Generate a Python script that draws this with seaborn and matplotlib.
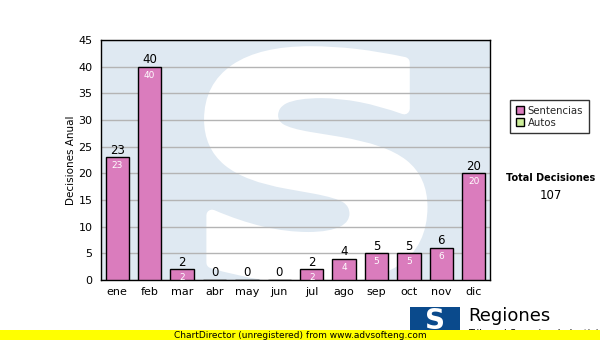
import matplotlib
matplotlib.use("Agg")
import matplotlib.pyplot as plt
import matplotlib.patches as mpatches
from matplotlib.textpath import TextPath
from matplotlib.font_manager import FontProperties
from matplotlib.transforms import Affine2D
import seaborn as sns
import pandas as pd

months = ["ene", "feb", "mar", "abr", "may", "jun", "jul", "ago", "sep", "oct", "nov", "dic"]
sentencias = [23, 40, 2, 0, 0, 0, 2, 4, 5, 5, 6, 20]
total = 107
yticks = [0, 5, 10, 15, 20, 25, 30, 35, 40, 45]

sns.set_theme(style="white")
plt.rcParams['font.family'] = ['DejaVu Sans']

df = pd.DataFrame({"mes": months, "Sentencias": sentencias})

fig = plt.figure(figsize=(6, 3.4), dpi=100)
ax = fig.add_axes([101/600, 1-280/340, (490-101)/600, (280-40)/340])
ax.set_facecolor("#dfe9f2")

# watermark S (scaled glyph path, thickened with a white outline)
tp = TextPath((0, 0), "S", size=1, prop=FontProperties(family="DejaVu Sans", weight="bold"))
ext = tp.get_extents()
x0, x1, y0, y1 = 2.85, 9.4, 0.3, 42.8
tr = Affine2D().translate(-ext.x0, -ext.y0).scale((x1 - x0) / ext.width, (y1 - y0) / ext.height).translate(x0, y0)
wm = mpatches.PathPatch(tr.transform_path(tp), facecolor="white", edgecolor="white",
                        linewidth=8, joinstyle="round", zorder=0.5)
ax.add_patch(wm)
wm.set_clip_path(ax.patch)

ax.yaxis.grid(True, color="#b4b4b4", linewidth=1)
ax.set_axisbelow(True)

sns.barplot(data=df, x="mes", y="Sentencias", color="#da7cbd", saturation=1,
            width=0.72, edgecolor="black", linewidth=1, ax=ax, zorder=3)

bars = ax.containers[0]
ax.bar_label(bars, labels=[str(v) for v in sentencias], padding=0.5, fontsize=8.5, color="black", zorder=4)
for b, v in zip(bars, sentencias):
    if v > 0:
        ax.annotate(str(v), (b.get_x() + b.get_width() / 2, b.get_height()),
                    xytext=(0, -3), textcoords="offset points", ha="center", va="top",
                    fontsize=6.5, color="white", zorder=4)

ax.set_ylim(0, 45)
ax.set_yticks(yticks)
ax.set_xlim(-0.5, 11.5)
ax.set_xlabel("")
ax.set_ylabel("Decisiones Anual", fontsize=7.5, color="black", labelpad=2)
ax.tick_params(axis="both", labelsize=8, colors="black", length=4, width=1, direction="out", pad=2)
ax.tick_params(axis="x", length=3)
for s in ax.spines.values():
    s.set_color("black")
    s.set_linewidth(1)
    s.set_visible(True)

# legend
handles = [mpatches.Patch(facecolor="#da7cbd", edgecolor="black", label="Sentencias"),
           mpatches.Patch(facecolor="#ccee99", edgecolor="black", label="Autos")]
leg = fig.legend(handles=handles, loc="upper left", bbox_to_anchor=(510/600, 1-100/340),
                 fontsize=7.3, frameon=True, fancybox=False, edgecolor="black",
                 handlelength=0.8, handleheight=0.8, handletextpad=0.4, borderpad=0.55,
                 labelspacing=0.2, borderaxespad=0)
leg.get_frame().set_linewidth(1)

fig.text(551/600, 1-178/340, "Total Decisiones", fontsize=7, fontweight="bold",
         ha="center", va="center", color="black")
fig.text(551/600, 1-196/340, str(total), fontsize=8.5, ha="center", va="center", color="black")

# logo
fig.patches.append(mpatches.Rectangle((410/600, 1-331/340), 50/600, 24/340,
                   transform=fig.transFigure, facecolor="#0a4a8c", edgecolor="none", zorder=1))
fig.text(435/600, 1-321/340, "S", fontsize=20, fontweight="bold", color="white",
         ha="center", va="center", zorder=2)
fig.text(468/600, 1-316/340, "Regiones", fontsize=13, ha="left", va="center", color="black", zorder=2)
fig.text(468/600, 1-334/340, "Tribunal Superior de Justicia", fontsize=7, ha="left", va="center",
         color="black", zorder=2)

# yellow band
fig.patches.append(mpatches.Rectangle((0, 0), 1, 10/340, transform=fig.transFigure,
                   facecolor="#ffff00", edgecolor="none", zorder=5))
fig.text(300/600, 1-335/340, "ChartDirector (unregistered) from www.advsofteng.com", fontsize=6.5,
         ha="center", va="center", color="black", zorder=6)

fig.savefig("out.png", dpi=100)
